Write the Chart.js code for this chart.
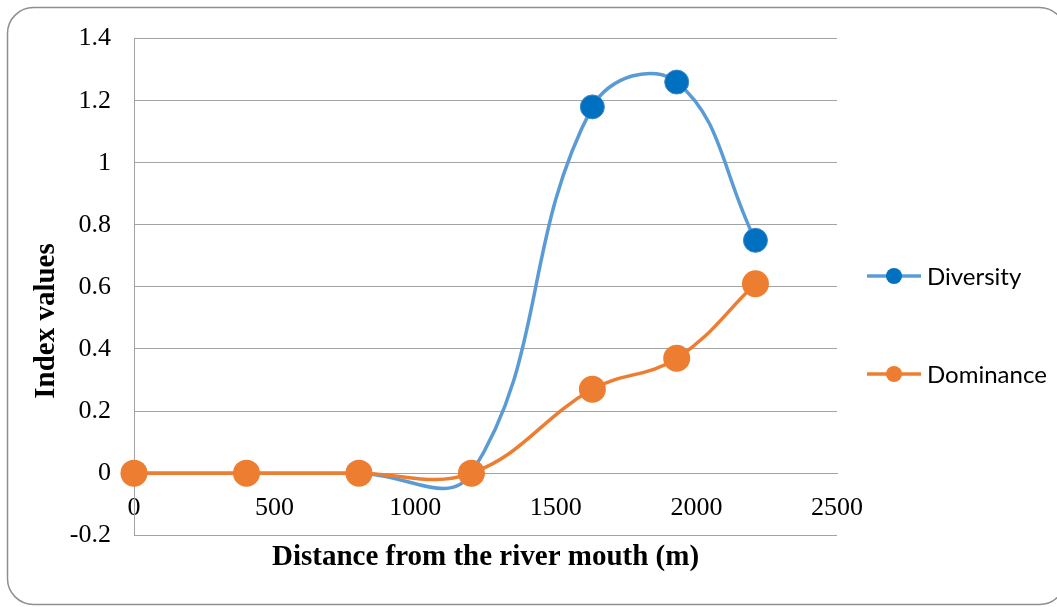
<!DOCTYPE html>
<html>
<head>
<meta charset="utf-8">
<script src="https://cdn.jsdelivr.net/npm/chart.js@4.4.1/dist/chart.umd.min.js"></script>
<style>
  html, body { margin: 0; padding: 0; background: #ffffff; }
  canvas { display: block; }
</style>
</head>
<body>
<canvas id="chart" width="1057" height="607"></canvas>
<script>
// Sampling stations along the river (m from the mouth)
const distances = [0, 400, 800, 1200, 1630, 1930, 2210];
const diversity = [0, 0, 0, 0, 1.18, 1.26, 0.75];
const dominance = [0, 0, 0, 0, 0.27, 0.37, 0.61];
const seriesNames = ['Diversity', 'Dominance'];
const xTickValues = [0, 500, 1000, 1500, 2000, 2500];
const yTickValues = [-0.2, 0, 0.2, 0.4, 0.6, 0.8, 1, 1.2, 1.4];
const xAxisTitle = 'Distance from the river mouth (m)';
const yAxisTitle = 'Index values';

const SERIF = "'Liberation Serif', 'Times New Roman', serif";
const SANS = "Lato, 'Open Sans', 'Liberation Sans', sans-serif";
const GRID = '#a3a3a3';

const toPoints = (xs, ys) => xs.map((x, i) => ({ x: x, y: ys[i] }));

// Frame, rotated y-axis title and the line-and-marker legend
const decorations = {
  id: 'decorations',
  beforeDraw(chart) {
    const ctx = chart.ctx;
    ctx.save();
    ctx.fillStyle = '#ffffff';
    ctx.fillRect(0, 0, chart.width, chart.height);
    ctx.strokeStyle = '#8f8f8f';
    ctx.lineWidth = 1.5;
    ctx.beginPath();
    ctx.roundRect(7.5, 7.5, 1058, 597, 26);
    ctx.stroke();
    ctx.restore();
  },
  afterDraw(chart) {
    const ctx = chart.ctx;
    ctx.save();
    ctx.translate(47, 321);
    ctx.rotate(-Math.PI / 2);
    ctx.font = 'bold 29px ' + SERIF;
    ctx.fillStyle = '#000000';
    ctx.textAlign = 'center';
    ctx.textBaseline = 'middle';
    ctx.fillText(yAxisTitle, 0, 0);
    ctx.restore();

    const rows = [276, 374];
    chart.data.datasets.forEach((ds, i) => {
      const y = rows[i];
      ctx.save();
      ctx.strokeStyle = ds.borderColor;
      ctx.lineWidth = 3.5;
      ctx.beginPath();
      ctx.moveTo(867, y);
      ctx.lineTo(921, y);
      ctx.stroke();
      ctx.fillStyle = ds.pointBackgroundColor;
      ctx.beginPath();
      ctx.arc(894, y, 8, 0, Math.PI * 2);
      ctx.fill();
      ctx.fillStyle = '#000000';
      ctx.font = '24px ' + SANS;
      ctx.textAlign = 'left';
      ctx.textBaseline = 'middle';
      ctx.fillText(ds.label, 927, y + 1);
      ctx.restore();
    });
  }
};

new Chart(document.getElementById('chart'), {
  type: 'scatter',
  data: {
    datasets: [
      {
        label: seriesNames[0],
        data: toPoints(distances, diversity),
        showLine: true,
        tension: 0.42,
        borderColor: '#5b9bd5',
        borderWidth: 3.5,
        pointBackgroundColor: '#0070c0',
        pointBorderColor: '#3f87cc',
        pointBorderWidth: 1,
        pointRadius: 12,
        clip: false,
        order: 1
      },
      {
        label: seriesNames[1],
        data: toPoints(distances, dominance),
        showLine: true,
        tension: 0.4,
        borderColor: '#ed7d31',
        borderWidth: 3.5,
        pointBackgroundColor: '#ed7d31',
        pointBorderColor: '#ed7d31',
        pointBorderWidth: 0,
        pointRadius: 13.5,
        clip: false,
        order: 0
      }
    ]
  },
  options: {
    responsive: false,
    animation: false,
    events: [],
    layout: { padding: { left: 0, right: 220, top: 38, bottom: 0 } },
    plugins: {
      legend: { display: false },
      tooltip: { enabled: false },
      title: {
        display: true,
        text: xAxisTitle,
        position: 'bottom',
        fullSize: false,
        color: '#000000',
        font: { family: SERIF, size: 29, weight: 'bold' },
        padding: { top: 5, bottom: 32 }
      }
    },
    scales: {
      x: {
        type: 'linear',
        position: { y: 0 },
        min: 0,
        max: 2500,
        afterBuildTicks: s => { s.ticks = xTickValues.map(v => ({ value: v })); },
        grid: { display: false, drawTicks: false },
        border: { display: true, color: GRID, width: 1 },
        ticks: {
          color: '#000000',
          padding: 19,
          maxRotation: 0,
          font: { family: SERIF, size: 26 },
          callback: v => String(v)
        }
      },
      y: {
        type: 'linear',
        position: 'left',
        min: -0.2,
        max: 1.4,
        afterBuildTicks: s => { s.ticks = yTickValues.map(v => ({ value: v })); },
        afterFit: s => { s.width = 134; },
        grid: { color: GRID, lineWidth: 1, drawTicks: false },
        border: { display: true, color: GRID, width: 1 },
        ticks: {
          color: '#000000',
          padding: 23,
          font: { family: SERIF, size: 26 },
          callback: v => String(Math.round(v * 10) / 10)
        }
      }
    }
  },
  plugins: [decorations]
});
</script>
</body>
</html>
